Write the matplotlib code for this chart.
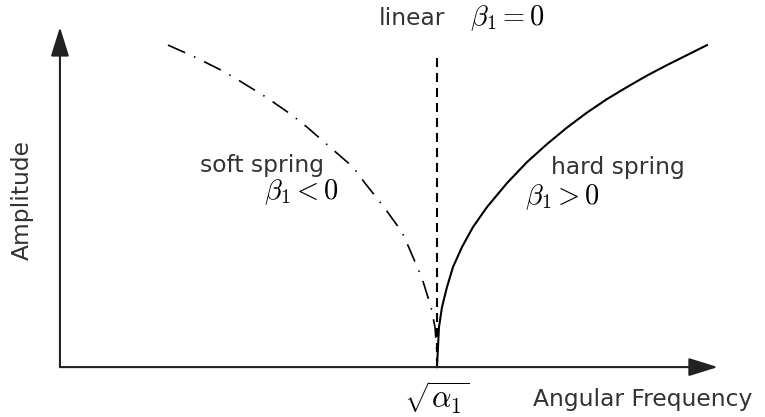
import matplotlib
matplotlib.use("Agg")
import matplotlib.pyplot as plt

plt.rcParams['font.family'] = ['DejaVu Sans']
plt.rcParams['mathtext.fontset'] = 'cm'
plt.rcParams['lines.scale_dashes'] = False

# backbone curves, frequency in units of sqrt(alpha_1)
soft_freq = [0.2865, 0.3581, 0.4324, 0.4775, 0.5464, 0.6154, 0.6552, 0.7162,
             0.7772, 0.8090, 0.8594, 0.9072, 0.9284, 0.9602, 0.9841, 0.9947,
             0.9987, 1.0]
soft_amp = [1.0, 0.9627, 0.9193, 0.8882, 0.8385, 0.7826, 0.7453, 0.6832,
            0.6211, 0.5714, 0.4969, 0.4193, 0.3634, 0.2764, 0.1863, 0.1242,
            0.0621, 0.0]
hard_freq = [1.0, 1.0027, 1.0053, 1.0133, 1.0265, 1.0424, 1.0663, 1.0955,
             1.1326, 1.1857, 1.2387, 1.2918, 1.3448, 1.3979, 1.4509, 1.5040,
             1.5570, 1.6101, 1.6631, 1.7162]
hard_amp = [0.0, 0.0621, 0.1242, 0.1863, 0.2484, 0.3106, 0.3727, 0.4348,
            0.4969, 0.5714, 0.6366, 0.6925, 0.7438, 0.7904, 0.8323, 0.8696,
            0.9053, 0.9379, 0.9689, 1.0]
linear_freq = 1.0
linear_top = 0.978

fig = plt.figure(figsize=(7.65, 4.17), dpi=100)
ax = fig.add_axes([0, 0, 1, 1])
ax.set_xlim(-0.159, 1.870)
ax.set_ylim(-0.155, 1.140)
ax.axis('off')

txt = '#333333'

# axes with arrow heads
arrow = dict(arrowstyle='-|>,head_length=0.9,head_width=0.28', lw=1.5,
             color='#222222', mutation_scale=20, shrinkA=0, shrinkB=0)
ax.annotate('', xy=(0, 1.056), xytext=(0, 0), arrowprops=arrow)
ax.annotate('', xy=(1.745, 0), xytext=(0, 0), arrowprops=arrow)

ax.plot([linear_freq, linear_freq], [0, linear_top], color='black', lw=1.5,
        dashes=(6.5, 4.3))
ax.plot(soft_freq, soft_amp, color='black', lw=1.2,
        dashes=(13.5, 7.0, 1.1, 7.0))
ax.plot(hard_freq, hard_amp, color='black', lw=1.5)

fs = 16.8
ms = 20.5
ax.text(-0.101, 0.519, 'Amplitude', rotation=90, ha='center', va='center',
        fontsize=fs, color=txt)
ax.text(1.546, -0.102, 'Angular Frequency', ha='center', va='center',
        fontsize=fs, color=txt)
ax.text(1.0, -0.096, r'$\sqrt{\alpha_1}$', ha='center', va='center',
        fontsize=22)
ax.text(0.934, 1.084, 'linear', ha='center', va='center', fontsize=fs,
        color=txt)
ax.text(1.188, 1.084, r'$\beta_1 = 0$', ha='center', va='center',
        fontsize=ms)
ax.text(0.536, 0.627, 'soft spring', ha='center', va='center', fontsize=fs,
        color=txt)
ax.text(0.642, 0.543, r'$\beta_1 < 0$', ha='center', va='center',
        fontsize=ms)
ax.text(1.480, 0.621, 'hard spring', ha='center', va='center', fontsize=fs,
        color=txt)
ax.text(1.332, 0.528, r'$\beta_1 > 0$', ha='center', va='center',
        fontsize=ms)

fig.savefig('out.png', dpi=100)
